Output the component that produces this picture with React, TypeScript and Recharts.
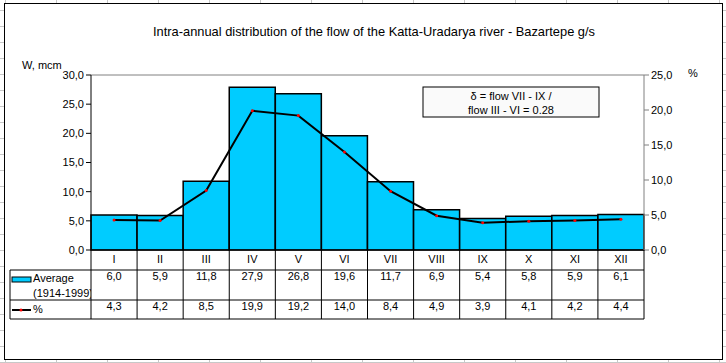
import React from 'react';
import { ComposedChart, Bar, Line, XAxis, YAxis, ReferenceLine } from 'recharts';

const months = ['I', 'II', 'III', 'IV', 'V', 'VI', 'VII', 'VIII', 'IX', 'X', 'XI', 'XII'];
const average = [6.0, 5.9, 11.8, 27.9, 26.8, 19.6, 11.7, 6.9, 5.4, 5.8, 5.9, 6.1];
const percent = [4.3, 4.2, 8.5, 19.9, 19.2, 14.0, 8.4, 4.9, 3.9, 4.1, 4.2, 4.4];
const leftTicks = [0, 5, 10, 15, 20, 25, 30];
const rightTicks = [0, 5, 10, 15, 20, 25];

const data = months.map((m, i) => ({ month: m, average: average[i], percent: percent[i] }));

const W = 726;
const H = 363;
const PL = 91;
const PR = 644;
const BAND = (PR - PL) / 12;
const FONT = "'Liberation Sans', Arial, sans-serif";

const fmt = (v: number) => v.toFixed(1).replace('.', ',');

// x axis tick draws the whole data-table column under the plot
const TableTick = (props: any) => {
  const { x, y, payload } = props;
  const i = payload.index;
  const half = BAND / 2;
  const bottom = y + 69;
  return (
    <g fontFamily={FONT} fontSize={11} fill="#000">
      <line x1={x + half} y1={y} x2={x + half} y2={bottom} stroke="#000" />
      {i === 0 && (
        <g>
          <line x1={x - half} y1={y} x2={x - half} y2={bottom} stroke="#000" />
          <line x1={10} y1={y + 20} x2={x - half + 12 * BAND} y2={y + 20} stroke="#000" />
          <line x1={10} y1={y + 50} x2={x - half + 12 * BAND} y2={y + 50} stroke="#000" />
          <line x1={10} y1={bottom} x2={x - half + 12 * BAND} y2={bottom} stroke="#000" />
          <line x1={10} y1={y + 20} x2={10} y2={bottom} stroke="#000" />
          <rect x={12} y={y + 27} width={19} height={5} fill="#00CCFF" stroke="#000" />
          <svg x={10} y={y + 20} width={x - half - 10} height={30}>
            <text x={23} y={12} fontFamily={FONT} fontSize={11}>Average</text>
            <text x={23} y={27} fontFamily={FONT} fontSize={11}>(1914-1999)</text>
          </svg>
          <line x1={12} y1={y + 60} x2={31} y2={y + 60} stroke="#000" strokeWidth={2} />
          <circle cx={21} cy={y + 60} r={1.5} fill="#ff0000" />
          <text x={33} y={y + 63}>%</text>
        </g>
      )}
      <text x={x} y={y + 13} textAnchor="middle">{payload.value}</text>
      <text x={x} y={y + 30} textAnchor="middle">{fmt(average[i])}</text>
      <text x={x} y={y + 60} textAnchor="middle">{fmt(percent[i])}</text>
    </g>
  );
};

const RedDot = (props: any) => {
  const { cx, cy } = props;
  return <circle cx={cx} cy={cy} r={1.5} fill="#ff0000" stroke="none" />;
};

export default function App() {
  return (
    <div
      style={{
        position: 'absolute',
        left: 0,
        top: 0,
        width: W,
        height: H,
        backgroundColor: '#fff',
        backgroundImage:
          'linear-gradient(#c8c8c8 1px, transparent 1px), linear-gradient(90deg, #c8c8c8 1px, transparent 1px)',
        backgroundSize: '51px 16px',
        backgroundPosition: '5px 10px',
        fontFamily: FONT,
      }}
    >
      <div
        style={{
          position: 'absolute',
          left: 4,
          top: 3,
          width: 717,
          height: 355,
          border: '1px solid #000',
          background: '#fff',
        }}
      />
      <div style={{ position: 'absolute', left: 0, top: 0 }}>
        <ComposedChart
          width={W}
          height={H}
          data={data}
          margin={{ top: 75, right: 0, bottom: 43, left: 0 }}
          barCategoryGap={0}
          barGap={0}
        >
          <XAxis
            dataKey="month"
            xAxisId="x"
            height={70}
            interval={0}
            tickLine={false}
            tickSize={0}
            tickMargin={0}
            axisLine={{ stroke: '#000' }}
            tick={<TableTick />}
          />
          <YAxis
            yAxisId="left"
            orientation="left"
            width={91}
            domain={[0, 30]}
            ticks={leftTicks}
            tickFormatter={fmt}
            tickSize={5}
            tickMargin={2}
            axisLine={{ stroke: '#000' }}
            tickLine={{ stroke: '#000' }}
            tick={{ fill: '#000', fontSize: 11, fontFamily: FONT }}
          />
          <YAxis
            yAxisId="right"
            orientation="right"
            width={82}
            domain={[0, 25]}
            ticks={rightTicks}
            tickFormatter={fmt}
            tickSize={5}
            tickMargin={2}
            axisLine={{ stroke: '#808080' }}
            tickLine={{ stroke: '#808080' }}
            tick={{ fill: '#000', fontSize: 11, fontFamily: FONT, textAnchor: 'start' }}
          />
          <ReferenceLine xAxisId="x" yAxisId="left" y={30} stroke="#808080" />
          <Bar
            xAxisId="x"
            yAxisId="left"
            dataKey="average"
            fill="#00CCFF"
            stroke="#000"
            strokeWidth={1.5}
            isAnimationActive={false}
          />
          <Line
            xAxisId="x"
            yAxisId="right"
            type="linear"
            dataKey="percent"
            stroke="#000"
            strokeWidth={2}
            dot={<RedDot />}
            activeDot={false}
            isAnimationActive={false}
          />
        </ComposedChart>
      </div>
      <svg
        width={W}
        height={H}
        style={{ position: 'absolute', left: 0, top: 0, pointerEvents: 'none' }}
        fontFamily={FONT}
      >
        <text x={153} y={36} fontSize={13} textLength={442} lengthAdjust="spacingAndGlyphs">
          Intra-annual distribution of the flow of the Katta-Uradarya river - Bazartepe g/s
        </text>
        <text x={22} y={69} fontSize={11}>W, mcm</text>
        <text x={688} y={77} fontSize={11}>%</text>
        <rect x={423} y={87} width={176} height={30} fill="#fafafa" stroke="#000" />
        <text x={511} y={100} fontSize={11} textAnchor="middle">δ = flow VII - IX /</text>
        <text x={511} y={114} fontSize={11} textAnchor="middle">flow III - VI = 0.28</text>
      </svg>
    </div>
  );
}
